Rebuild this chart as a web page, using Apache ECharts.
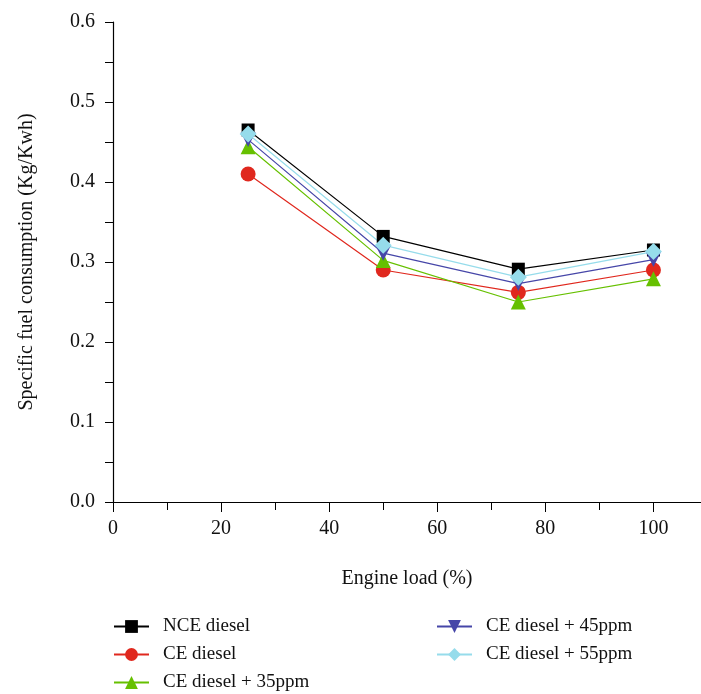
<!DOCTYPE html>
<html>
<head>
    <meta charset="utf-8">
    <title>ECharts</title>
    <script src="https://cdn.jsdelivr.net/npm/echarts@6/dist/echarts.min.js"></script>
</head>
<body style="margin:0">
    <div id="main" style="width: 701px;height:694px;"></div>
    <script type="text/javascript">
        var loads = [25, 50, 75, 100];
        var nceDiesel = [0.465, 0.332, 0.291, 0.315];
        var ceDiesel = [0.41, 0.29, 0.262, 0.29];
        var ce35 = [0.444, 0.302, 0.25, 0.279];
        var ce45 = [0.453, 0.311, 0.273, 0.303];
        var ce55 = [0.46, 0.321, 0.281, 0.313];
        var xTicks = [0, 20, 40, 60, 80, 100];
        var names = ['NCE diesel', 'CE diesel', 'CE diesel + 35ppm', 'CE diesel + 45ppm', 'CE diesel + 55ppm'];

        function pairs(vals) {
            return loads.map(function (x, i) { return [x, vals[i]]; });
        }

        var font = 'Liberation Serif';
        var legendBase = {
            orient: 'vertical',
            top: 617, padding: 0, height: 77,
            itemGap: 9, itemWidth: 35, itemHeight: 16,
            textStyle: { fontFamily: font, fontSize: 19, color: '#111', padding: [0, 0, 0, 9] }
        };
        var myChart = echarts.init(document.getElementById('main'));
        var option = {
            animation: false,
            textStyle: { fontFamily: font },
            grid: { left: 113, top: 22, right: 0, bottom: 192 },
            legend: [
                Object.assign({ data: names.slice(0, 3), left: 113 }, legendBase),
                Object.assign({ data: names.slice(3), left: 436 }, legendBase)
            ],
            xAxis: {
                type: 'value',
                min: 0, max: 108.8, interval: 20,
                name: 'Engine load (%)',
                nameLocation: 'middle',
                nameGap: 67,
                nameTextStyle: { fontFamily: font, fontSize: 20, color: '#111' },
                axisLine: { lineStyle: { color: '#000', width: 1.2 } },
                axisTick: { length: 10, lineStyle: { color: '#000' }, customValues: xTicks },
                minorTick: { show: true, splitNumber: 2, length: 8, lineStyle: { color: '#000' } },
                axisLabel: {
                    fontFamily: font, fontSize: 20, color: '#111', margin: 17,
                    customValues: xTicks
                },
                splitLine: { show: false }
            },
            yAxis: {
                type: 'value',
                min: 0, max: 0.6, interval: 0.1,
                name: 'Specific fuel consumption (Kg/Kwh)',
                nameLocation: 'middle',
                nameGap: 76,
                nameTextStyle: { fontFamily: font, fontSize: 20, color: '#111' },
                axisLine: { lineStyle: { color: '#000', width: 1.2 } },
                axisTick: { length: 8, lineStyle: { color: '#000' } },
                minorTick: { show: true, splitNumber: 2, length: 8, lineStyle: { color: '#000' } },
                axisLabel: {
                    fontFamily: font, fontSize: 20, color: '#111', margin: 18,
                    formatter: function (v) { return v.toFixed(1); }
                },
                splitLine: { show: false }
            },
            series: [
                {
                    name: names[0], type: 'line', data: pairs(nceDiesel),
                    symbol: 'rect', symbolSize: 13,
                    color: '#000000', lineStyle: { width: 1.2 }
                },
                {
                    name: names[1], type: 'line', data: pairs(ceDiesel),
                    symbol: 'circle', symbolSize: 15,
                    color: '#e0281e', lineStyle: { width: 1.2 }
                },
                {
                    name: names[2], type: 'line', data: pairs(ce35),
                    symbol: 'triangle', symbolSize: 15,
                    color: '#66c000', lineStyle: { width: 1.2 }
                },
                {
                    name: names[3], type: 'line', data: pairs(ce45),
                    symbol: 'triangle', symbolRotate: 180, symbolSize: 15,
                    color: '#4646a8', lineStyle: { width: 1.2 }
                },
                {
                    name: names[4], type: 'line', data: pairs(ce55),
                    symbol: 'diamond', symbolSize: 17,
                    color: '#96dceb', lineStyle: { width: 1.2 }
                }
            ]
        };
        myChart.setOption(option);
    </script>
</body>
</html>
